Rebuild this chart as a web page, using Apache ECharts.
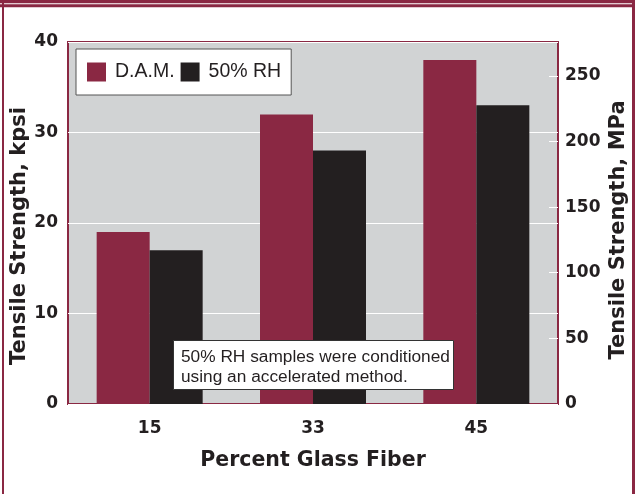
<!DOCTYPE html>
<html>
<head>
<meta charset="utf-8">
<script src="https://cdn.jsdelivr.net/npm/echarts@6/dist/echarts.min.js"></script>
<style>
  html, body { margin: 0; padding: 0; background: #ffffff; }
  #chart { width: 635px; height: 494px; }
</style>
</head>
<body>
<div id="chart"></div>
<script>
// Tensile strength of glass-fibre grades, dry-as-moulded vs. conditioned
const fiberPercent = ['15', '33', '45'];
const damKpsi = [19, 32, 38];
const rh50Kpsi = [17, 28, 33];
const kpsiTicks = [0, 10, 20, 30, 40];
const mpaTicks = [0, 50, 100, 150, 200, 250];
const KPSI_TO_MPA = 6.894757;

const MAROON = '#8a2843';
const BLACK = '#231f20';
const PANEL = '#d1d3d4';
const BOLD = 'DejaVu Sans';
const PLAIN = 'Liberation Sans';

const kpsiMax = kpsiTicks[kpsiTicks.length - 1];

const chart = echarts.init(document.getElementById('chart'), null, { renderer: 'canvas' });

chart.setOption({
  backgroundColor: '#ffffff',
  animation: false,
  grid: {
    left: 68, right: 77, top: 42, bottom: 90,
    containLabel: false,
    outerBoundsMode: 'none',
    show: true,
    backgroundColor: PANEL,
    borderColor: MAROON,
    borderWidth: 2
  },
  legend: {
    left: 76, top: 49,
    orient: 'horizontal',
    icon: 'rect',
    itemWidth: 19, itemHeight: 19,
    itemGap: 6,
    padding: [13, 10, 13, 11],
    backgroundColor: '#ffffff',
    borderColor: '#555555',
    borderWidth: 1,
    textStyle: { fontFamily: PLAIN, fontSize: 19.5, color: '#231f20', padding: [0, 0, 0, 4] },
    data: ['D.A.M.', '50% RH']
  },
  xAxis: {
    type: 'category',
    data: fiberPercent,
    name: 'Percent Glass Fiber',
    nameLocation: 'middle',
    nameGap: 46,
    nameMoveOverlap: false,
    nameTextStyle: { fontFamily: BOLD, fontWeight: 'bold', fontSize: 20.5, color: '#231f20' },
    axisLine: { show: false },
    axisTick: { show: false },
    axisLabel: { margin: 16, fontFamily: BOLD, fontWeight: 'bold', fontSize: 17, color: '#231f20' }
  },
  yAxis: [
    {
      type: 'value',
      min: 0, max: kpsiMax, interval: 10,
      name: 'Tensile Strength, kpsi',
      nameLocation: 'middle',
      nameRotate: 90,
      nameGap: 38,
      nameMoveOverlap: false,
      nameTextStyle: { fontFamily: BOLD, fontWeight: 'bold', fontSize: 21, color: '#231f20', padding: [0, 26, 0, 0] },
      axisLine: { show: false },
      axisTick: { show: false },
      axisLabel: { margin: 10, fontFamily: BOLD, fontWeight: 'bold', fontSize: 17, color: '#231f20' },
      splitLine: { show: true, lineStyle: { color: '#ffffff', width: 1 } }
    },
    {
      type: 'value',
      position: 'right',
      min: 0, max: kpsiMax * KPSI_TO_MPA,
      interval: 50,
      name: 'Tensile Strength, MPa',
      nameLocation: 'middle',
      nameRotate: 90,
      nameGap: 50,
      nameMoveOverlap: false,
      nameTextStyle: { fontFamily: BOLD, fontWeight: 'bold', fontSize: 21, color: '#231f20', padding: [0, 14, 0, 0] },
      axisLine: { show: false },
      axisTick: { show: true, inside: true, length: 9, lineStyle: { color: '#ffffff', width: 1 }, customValues: mpaTicks },
      axisLabel: { margin: 7, fontFamily: BOLD, fontWeight: 'bold', fontSize: 17, color: '#231f20', customValues: mpaTicks },
      splitLine: { show: false }
    }
  ],
  series: [
    {
      name: 'D.A.M.',
      type: 'bar',
      yAxisIndex: 0,
      data: damKpsi,
      barWidth: 53,
      barGap: '0%',
      itemStyle: { color: MAROON }
    },
    {
      name: '50% RH',
      type: 'bar',
      yAxisIndex: 0,
      data: rh50Kpsi,
      barWidth: 53,
      barGap: '0%',
      itemStyle: { color: BLACK }
    }
  ],
  graphic: [
    // page frame: double rule across the top, single rules down the sides
    { type: 'rect', left: 0, top: 0, shape: { width: 635, height: 3.3 }, style: { fill: MAROON }, silent: true },
    { type: 'rect', left: 0, top: 4.3, shape: { width: 635, height: 3 }, style: { fill: MAROON }, silent: true },
    { type: 'rect', left: 2, top: 0, shape: { width: 2, height: 494 }, style: { fill: MAROON }, silent: true },
    { type: 'rect', left: 632, top: 0, shape: { width: 3, height: 494 }, style: { fill: MAROON }, silent: true },
    // note on the conditioning method, drawn over the bars
    {
      type: 'rect',
      x: 173.5, y: 340.5,
      z: 100,
      shape: { x: 0, y: 0, width: 280, height: 49 },
      style: { fill: '#ffffff', stroke: '#333333', lineWidth: 1 }
    },
    {
      type: 'text',
      x: 181, y: 347,
      z: 101,
      style: {
        text: '50% RH samples were conditioned\nusing an accelerated method.',
        fontFamily: PLAIN,
        fontSize: 17.3,
        lineHeight: 20,
        fill: '#231f20',
        verticalAlign: 'top',
        align: 'left'
      }
    }
  ]
});
</script>
</body>
</html>
